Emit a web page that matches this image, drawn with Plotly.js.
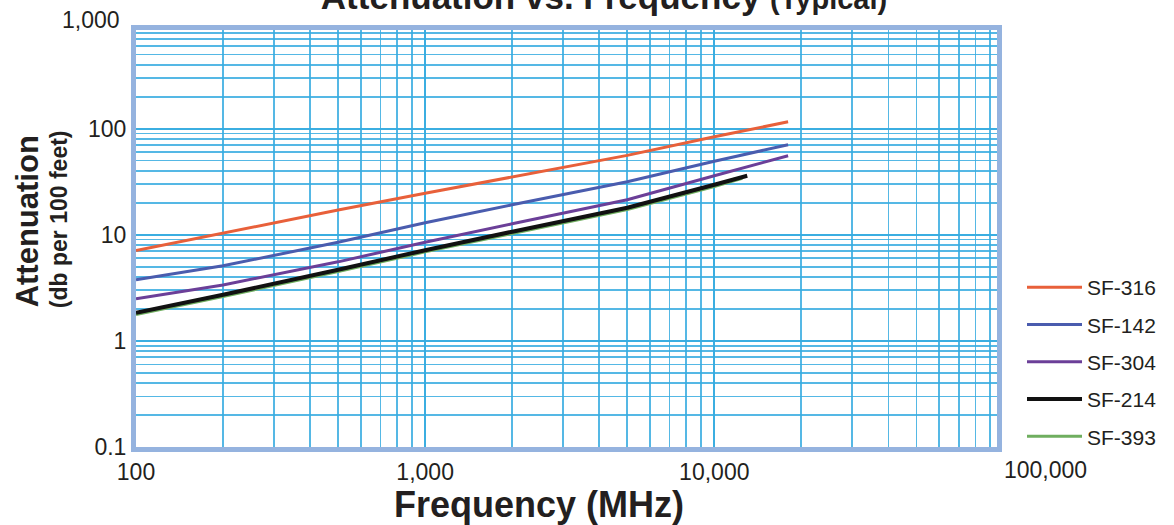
<!DOCTYPE html>
<html><head><meta charset="utf-8">
<script src="https://cdn.plot.ly/plotly-3.0.1.min.js"></script>
<style>html,body{margin:0;padding:0;background:#fff}#chart{width:1174px;height:525px}</style>
</head><body><div id="chart"></div>
<script>
// ---- data ----
const seriesNames = ['SF-316', 'SF-142', 'SF-304', 'SF-214', 'SF-393'];
const freqLong = [100, 200, 500, 1000, 2000, 5000, 10000, 18000];
const freq214 = [100, 200, 500, 1000, 2000, 5000, 10000, 13000];
const freq393 = [100, 200, 500, 1000, 2000, 5000, 10000, 12500];
const att316 = [7.1, 10.4, 17.1, 24.6, 34.9, 56, 84, 116];
const att142 = [3.76, 5.1, 8.5, 13.0, 19.2, 31.6, 49.4, 70.6];
const att304 = [2.49, 3.37, 5.56, 8.5, 12.7, 21.4, 36, 55.6];
const att214 = [1.84, 2.72, 4.68, 7.16, 10.7, 18, 29.6, 36];
const att393 = [1.77, 2.62, 4.5, 6.9, 10.3, 17.3, 28.5, 34];
const xTickVals = [100, 1000, 10000];
const xTickText = ['100', '1,000', '10,000'];
const yTickVals = [0.1, 1, 10, 100];
const yTickText = ['0.1', '1', '10', '100'];
const extraXTick = '100,000';
const extraYTick = '1,000';
const xTitle = 'Frequency (MHz)';

// ---- styling ----
const FONT = 'Arial, "Liberation Sans", Helvetica, sans-serif';
const gridC = 'rgba(55,172,225,0.85)';
const frameC = '#95b3df';
const NB = '\u00a0';
const style = {
  'SF-316': {color: '#e8603a', width: 3, rank: 1},
  'SF-142': {color: '#4a5cae', width: 3, rank: 2},
  'SF-304': {color: '#6b3f98', width: 3, rank: 3},
  'SF-214': {color: '#111111', width: 4, rank: 4},
  'SF-393': {color: '#6fae5f', width: 3, rank: 5}
};
const seriesData = {
  'SF-316': [freqLong, att316],
  'SF-142': [freqLong, att142],
  'SF-304': [freqLong, att304],
  'SF-214': [freq214, att214],
  'SF-393': [freq393, att393]
};
// draw order: green beneath black
const drawOrder = ['SF-316', 'SF-142', 'SF-304', 'SF-393', 'SF-214'];
const traces = drawOrder.map(n => ({
  type: 'scatter', mode: 'lines', name: n,
  x: seriesData[n][0], y: seriesData[n][1],
  line: {color: style[n].color, width: style[n].width},
  legendrank: style[n].rank, legendgroup: n
}));

const layout = {
  width: 1174, height: 525,
  paper_bgcolor: '#ffffff', plot_bgcolor: '#ffffff',
  font: {family: FONT, color: '#231f20'},
  margin: {l: 136, r: 177, t: 30, b: 78, pad: 0},
  title: {
    text: 'Attenuation vs. Frequency <span style="font-size:29px">(Typical)</span>',
    font: {size: 35, weight: 'bold', color: '#231f20'},
    xref: 'container', x: 604 / 1174, xanchor: 'center',
    yref: 'container', y: 1 - 9 / 525, yanchor: 'bottom'
  },
  xaxis: {
    type: 'log', range: [2, Math.log10(95000)],
    tickmode: 'array', tickvals: xTickVals, ticktext: xTickText,
    tickfont: {size: 23}, ticks: '',
    showgrid: true, gridcolor: gridC, gridwidth: 1.7,
    minor: {dtick: 'D1', showgrid: true, gridcolor: gridC, gridwidth: 1.7, ticks: ''},
    showline: true, mirror: true, linecolor: frameC, linewidth: 5,
    zeroline: false
  },
  yaxis: {
    type: 'log', range: [-1, 2.93],
    tickmode: 'array', tickvals: yTickVals, ticktext: yTickText,
    tickfont: {size: 23}, ticks: '',
    showgrid: true, gridcolor: gridC, gridwidth: 1.7,
    minor: {dtick: 'D1', showgrid: true, gridcolor: gridC, gridwidth: 1.7, ticks: ''},
    showline: true, mirror: true, linecolor: frameC, linewidth: 5,
    zeroline: false,
    title: {
      text: '<span style="font-size:31px">' + NB.repeat(4) + 'Attenuation</span><br>' + NB.repeat(6) + '(db per 100 feet)',
      font: {size: 23, weight: 'bold'}, standoff: 15
    }
  },
  legend: {
    xref: 'container', x: 1022 / 1174, xanchor: 'left',
    yref: 'container', y: 1 - 267 / 525, yanchor: 'top',
    font: {size: 21, color: '#231f20'}, itemwidth: 55,
    traceorder: 'grouped', tracegroupgap: 7,
    bgcolor: 'rgba(0,0,0,0)'
  },
  annotations: [
    {text: xTitle, xref: 'paper', x: (539 - 136) / 861, xanchor: 'center',
     yref: 'paper', y: 0, yanchor: 'top', yshift: -35, showarrow: false,
     font: {size: 36, weight: 'bold'}},
    {text: extraYTick, xref: 'paper', x: 0, xanchor: 'right', xshift: -14,
     yref: 'paper', y: 1, yanchor: 'middle', yshift: 10, showarrow: false, font: {size: 23}},
    {text: extraXTick, xref: 'paper', x: (1045 - 136) / 861, xanchor: 'center',
     yref: 'paper', y: 0, yanchor: 'top', yshift: -8, showarrow: false, font: {size: 23}}
  ],
  showlegend: true
};
Plotly.newPlot('chart', traces, layout, {staticPlot: true, displayModeBar: false});
</script>
</body></html>
